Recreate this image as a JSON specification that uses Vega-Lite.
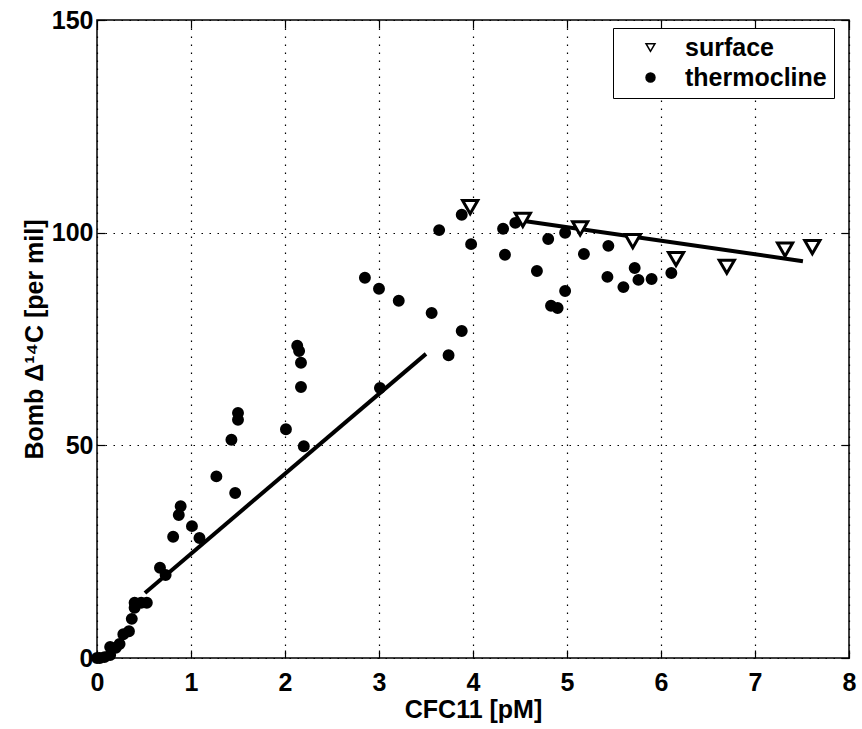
{
  "$schema": "https://vega.github.io/schema/vega-lite/v6.json",
  "autosize": "none",
  "width": 752,
  "height": 638,
  "padding": {"left": 97, "top": 20, "right": 13, "bottom": 71},
  "background": "white",
  "config": {
    "view": {"stroke": "black", "strokeWidth": 1.5},
    "font": "Liberation Sans",
    "axis": {
      "labelFont": "Liberation Sans",
      "titleFont": "Liberation Sans",
      "labelColor": "black",
      "titleColor": "black",
      "domainColor": "black",
      "tickColor": "black",
      "tickWidth": 1.2
    }
  },
  "datasets": {
    "pts": [
      {"x": 0.0, "y": 0.0, "type": "thermocline"},
      {"x": 0.03, "y": 0.0, "type": "thermocline"},
      {"x": 0.08, "y": 0.2, "type": "thermocline"},
      {"x": 0.14, "y": 0.7, "type": "thermocline"},
      {"x": 0.14, "y": 2.6, "type": "thermocline"},
      {"x": 0.2, "y": 2.4, "type": "thermocline"},
      {"x": 0.24, "y": 3.3, "type": "thermocline"},
      {"x": 0.28, "y": 5.6, "type": "thermocline"},
      {"x": 0.34, "y": 6.3, "type": "thermocline"},
      {"x": 0.37, "y": 9.2, "type": "thermocline"},
      {"x": 0.4, "y": 11.8, "type": "thermocline"},
      {"x": 0.4, "y": 13.0, "type": "thermocline"},
      {"x": 0.47, "y": 13.0, "type": "thermocline"},
      {"x": 0.53, "y": 13.0, "type": "thermocline"},
      {"x": 0.67, "y": 21.2, "type": "thermocline"},
      {"x": 0.73, "y": 19.5, "type": "thermocline"},
      {"x": 0.81, "y": 28.5, "type": "thermocline"},
      {"x": 0.87, "y": 33.6, "type": "thermocline"},
      {"x": 0.89, "y": 35.7, "type": "thermocline"},
      {"x": 1.01, "y": 31.0, "type": "thermocline"},
      {"x": 1.09, "y": 28.2, "type": "thermocline"},
      {"x": 1.27, "y": 42.7, "type": "thermocline"},
      {"x": 1.43, "y": 51.3, "type": "thermocline"},
      {"x": 1.47, "y": 38.8, "type": "thermocline"},
      {"x": 1.5, "y": 56.0, "type": "thermocline"},
      {"x": 1.5, "y": 57.6, "type": "thermocline"},
      {"x": 2.01, "y": 53.8, "type": "thermocline"},
      {"x": 2.13, "y": 73.4, "type": "thermocline"},
      {"x": 2.15, "y": 72.2, "type": "thermocline"},
      {"x": 2.17, "y": 69.4, "type": "thermocline"},
      {"x": 2.17, "y": 63.7, "type": "thermocline"},
      {"x": 2.2, "y": 49.8, "type": "thermocline"},
      {"x": 2.85, "y": 89.4, "type": "thermocline"},
      {"x": 3.0, "y": 86.8, "type": "thermocline"},
      {"x": 3.01, "y": 63.5, "type": "thermocline"},
      {"x": 3.21, "y": 84.0, "type": "thermocline"},
      {"x": 3.56, "y": 81.1, "type": "thermocline"},
      {"x": 3.64, "y": 100.6, "type": "thermocline"},
      {"x": 3.74, "y": 71.2, "type": "thermocline"},
      {"x": 3.88, "y": 76.9, "type": "thermocline"},
      {"x": 3.88, "y": 104.2, "type": "thermocline"},
      {"x": 3.98, "y": 97.3, "type": "thermocline"},
      {"x": 4.32, "y": 100.9, "type": "thermocline"},
      {"x": 4.34, "y": 94.8, "type": "thermocline"},
      {"x": 4.45, "y": 102.3, "type": "thermocline"},
      {"x": 4.68, "y": 91.0, "type": "thermocline"},
      {"x": 4.8, "y": 98.5, "type": "thermocline"},
      {"x": 4.83, "y": 82.8, "type": "thermocline"},
      {"x": 4.9, "y": 82.3, "type": "thermocline"},
      {"x": 4.98, "y": 100.0, "type": "thermocline"},
      {"x": 4.98, "y": 86.3, "type": "thermocline"},
      {"x": 5.18, "y": 95.0, "type": "thermocline"},
      {"x": 5.44, "y": 96.9, "type": "thermocline"},
      {"x": 5.43, "y": 89.6, "type": "thermocline"},
      {"x": 5.6, "y": 87.2, "type": "thermocline"},
      {"x": 5.72, "y": 91.7, "type": "thermocline"},
      {"x": 5.76, "y": 88.9, "type": "thermocline"},
      {"x": 5.9, "y": 89.1, "type": "thermocline"},
      {"x": 6.11, "y": 90.5, "type": "thermocline"},
      {"x": 3.97, "y": 106.0, "type": "surface"},
      {"x": 4.53, "y": 103.0, "type": "surface"},
      {"x": 5.14, "y": 101.0, "type": "surface"},
      {"x": 5.7, "y": 98.0, "type": "surface"},
      {"x": 6.16, "y": 93.8, "type": "surface"},
      {"x": 6.7, "y": 92.0, "type": "surface"},
      {"x": 7.32, "y": 96.0, "type": "surface"},
      {"x": 7.61, "y": 96.6, "type": "surface"}
    ],
    "fits": [
      {"x": 0.51, "y": 15.3, "fit": "thermocline"},
      {"x": 3.5, "y": 71.5, "fit": "thermocline"},
      {"x": 4.47, "y": 103.0, "fit": "surface"},
      {"x": 7.51, "y": 93.3, "fit": "surface"}
    ]
  },
  "layer": [
    {
      "data": {"name": "fits"},
      "mark": {"type": "line", "color": "black", "strokeWidth": 4, "clip": true},
      "encoding": {
        "x": {"field": "x", "type": "quantitative", "scale": {"domain": [0, 8], "nice": false}, "axis": null},
        "y": {"field": "y", "type": "quantitative", "scale": {"domain": [0, 150], "nice": false}, "axis": null},
        "detail": {"field": "fit"}
      }
    },
    {
      "data": {"name": "pts"},
      "mark": {"type": "point", "filled": true, "stroke": "black", "strokeWidth": 3, "opacity": 1},
      "encoding": {
        "x": {
          "field": "x", "type": "quantitative",
          "scale": {"domain": [0, 8], "nice": false},
          "axis": {
            "orient": "bottom",
            "title": "CFC11 [pM]", "titleFontSize": 25, "titleFontWeight": "bold", "titlePadding": 2,
            "values": [0, 1, 2, 3, 4, 5, 6, 7, 8], "labelFontSize": 25, "labelFontWeight": "bold",
            "tickSize": -8, "labelPadding": 20, "domain": false, "labelFlush": false,
            "grid": true, "gridColor": "black", "gridDash": [1.5, 6.5], "gridWidth": 1.2, "gridOpacity": 1
          }
        },
        "y": {
          "field": "y", "type": "quantitative",
          "scale": {"domain": [0, 150], "nice": false},
          "axis": {
            "orient": "left",
            "title": "Bomb Δ¹⁴C [per mil]", "titleFontSize": 25, "titleFontWeight": "bold", "titlePadding": 4,
            "values": [0, 50, 100, 150], "labelFontSize": 25, "labelFontWeight": "bold",
            "tickSize": -8, "labelPadding": 12, "domain": false, "labelFlush": false,
            "grid": true, "gridColor": "black", "gridDash": [1.5, 6.5], "gridWidth": 1.2, "gridOpacity": 1
          }
        },
        "shape": {
          "field": "type", "type": "nominal",
          "scale": {"domain": ["surface", "thermocline"], "range": ["triangle-down", "circle"]},
          "legend": {
            "title": null, "orient": "none", "legendX": 516, "legendY": 8,
            "strokeColor": "black", "fillColor": "white", "padding": 7,
            "labelFontSize": 25, "labelFontWeight": "bold", "labelFont": "Liberation Sans", "labelColor": "black",
            "symbolSize": 80, "symbolOffset": 18,
            "rowPadding": 4, "labelOffset": 22,
            "encode": {
              "symbols": {"update": {"stroke": {"value": "black"}, "strokeWidth": {"value": 3.5}}}
            }
          }
        },
        "fill": {
          "field": "type", "type": "nominal",
          "scale": {"domain": ["surface", "thermocline"], "range": ["white", "black"]},
          "legend": null
        },
        "size": {
          "condition": {"test": "datum.type === 'surface'", "value": 230},
          "value": 80
        }
      }
    },
    {
      "data": {"values": [{"x": 0, "y": 0}]},
      "mark": {"type": "point", "opacity": 0},
      "encoding": {
        "x": {"field": "x", "type": "quantitative", "scale": {"domain": [0, 8], "nice": false},
          "axis": {"orient": "top", "title": null, "labels": false, "domain": false, "grid": false, "values": [0,1,2,3,4,5,6,7,8], "tickSize": -8}},
        "y": {"field": "y", "type": "quantitative", "scale": {"domain": [0, 150], "nice": false},
          "axis": {"orient": "right", "title": null, "labels": false, "domain": false, "grid": false, "values": [0,50,100,150], "tickSize": -8}}
      }
    }
  ],
  "resolve": {"axis": {"x": "independent", "y": "independent"}}
}
